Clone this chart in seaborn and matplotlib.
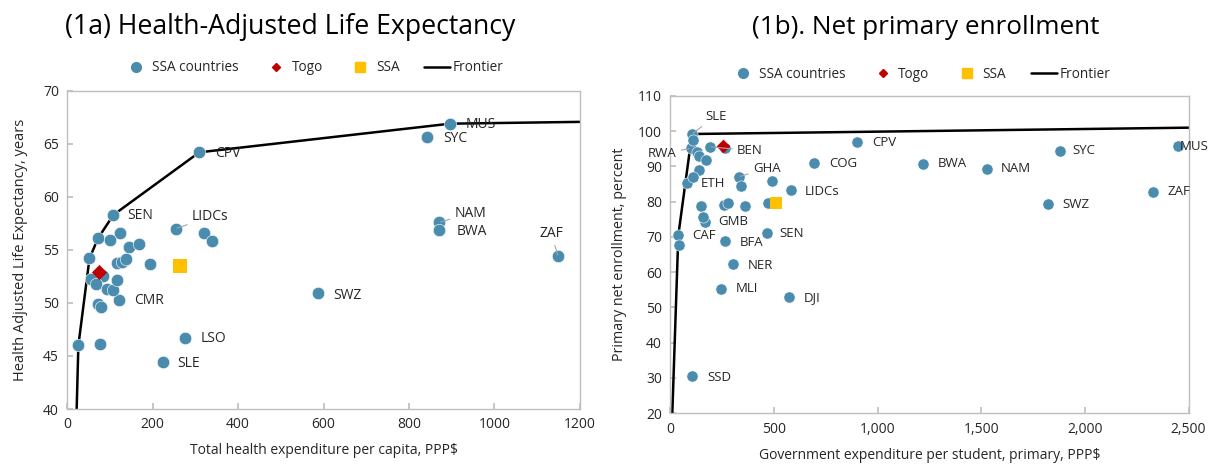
import matplotlib
matplotlib.use('Agg')
import matplotlib.pyplot as plt
import matplotlib.ticker as mticker
from matplotlib.lines import Line2D
import pandas as pd
import seaborn as sns

# ---- (1a) health: SSA countries (blank code = unlabelled point)
health_codes = ['CPV', 'SEN', 'LIDCs', 'CMR', 'LSO', 'SLE', 'SWZ', 'MUS', 'SYC', 'NAM', 'BWA', 'ZAF',
                '', '', '', '', '', '', '', '', '', '', '', '', '', '', '', '', '', '', '', '', '', '', '']
health_spend = [309, 108, 254, 122, 276, 225, 587, 896, 843, 871, 871, 1149,
                321, 339, 124, 72, 100, 145, 168, 52, 116, 127, 137, 194, 261, 84, 56, 67, 92, 108,
                116, 72, 80, 26, 77]
health_hale = [64.2, 58.3, 57.0, 50.3, 46.7, 44.4, 50.9, 66.9, 65.6, 57.6, 56.9, 54.4,
               56.6, 55.8, 56.6, 56.1, 55.9, 55.3, 55.6, 54.2, 53.8, 53.9, 54.1, 53.7, 53.5, 52.5, 52.3,
               51.8, 51.3, 51.2, 52.2, 49.9, 49.6, 46.0, 46.1]
togo_health = [75, 52.9]
ssa_health = [264, 53.45]
frontier_health_x = [22, 26, 52, 72, 108, 309, 896, 1200]
frontier_health_y = [40.0, 46.0, 54.2, 56.1, 58.3, 64.2, 66.9, 67.07]

# ---- (1b) education
edu_codes = ['SLE', 'RWA', 'BEN', 'GHA', 'ETH', 'COG', 'CPV', 'LIDCs', 'GMB', 'CAF', 'BFA', 'SEN',
             'NER', 'MLI', 'DJI', 'SSD', 'BWA', 'NAM', 'SYC', 'SWZ', 'ZAF', 'MUS',
             '', '', '', '', '', '', '', '', '', '', '', '', '', '', '', '']
edu_spend = [105, 98, 191, 331, 79, 694, 900, 583, 166, 39, 265, 466,
             304, 246, 571, 105, 1220, 1528, 1879, 1821, 2329, 2449,
             111, 127, 140, 172, 137, 108, 264, 339, 489, 146, 259, 280, 359, 471, 156, 43]
edu_enrol = [99.2, 95.1, 95.6, 87.1, 85.4, 91.0, 96.9, 83.2, 74.3, 70.5, 68.8, 71.0,
             62.2, 55.3, 53.0, 30.5, 90.7, 89.4, 94.5, 79.4, 82.8, 95.9,
             97.5, 94.1, 92.9, 91.8, 89.0, 87.1, 95.1, 84.4, 85.8, 78.8, 79.2, 79.7, 78.8, 79.7,
             75.6, 67.8]
togo_edu = [254, 95.8]
ssa_edu = [508, 79.5]
frontier_edu_x = [10, 39, 105, 2500]
frontier_edu_y = [20.0, 70.5, 99.2, 101.0]

# label offsets in pixels (dx, dy), alignment, leader line
lab_1a = {'CPV': (16, -1, 'left', False), 'SEN': (14, -1, 'left', False),
          'LIDCs': (16, 12, 'left', True), 'CMR': (15, -1, 'left', False),
          'LSO': (15, -1, 'left', False), 'SLE': (14, -1, 'left', False),
          'SWZ': (15, -2, 'left', False), 'MUS': (16, -1, 'left', False),
          'SYC': (16, -1, 'left', False), 'NAM': (15, 9, 'left', True),
          'BWA': (17, -2, 'left', False), 'ZAF': (-7, 23, 'center', True)}
lab_1b = {'SLE': (13, 18, 'left', True), 'RWA': (-14, -5, 'right', True),
          'BEN': (27, -4, 'left', True), 'GHA': (14, 8, 'left', True),
          'ETH': (14, -1, 'left', False), 'COG': (15, -1, 'left', False),
          'CPV': (15, 0, 'left', False), 'LIDCs': (14, -1, 'left', False),
          'GMB': (14, 0, 'left', False), 'CAF': (14, 0, 'left', False),
          'BFA': (15, -1, 'left', False), 'SEN': (13, 0, 'left', False),
          'NER': (14, -1, 'left', False), 'MLI': (15, 0, 'left', False),
          'DJI': (15, -1, 'left', False), 'SSD': (15, -1, 'left', False),
          'BWA': (15, 0, 'left', False), 'NAM': (14, 0, 'left', False),
          'SYC': (13, 0, 'left', False), 'SWZ': (15, -1, 'left', False),
          'ZAF': (14, 0, 'left', False), 'MUS': (2, -1, 'left', False)}

BLUE = '#4A8CAE'
RED = '#C00000'
GOLD = '#FFC000'
GREY = '#BFBFBF'
TXT = '#262626'

sns.set_theme(style='white')
plt.rcParams['font.family'] = ['Open Sans', 'DejaVu Sans']

fig = plt.figure(figsize=(12.12, 4.68), dpi=100)
ax1 = fig.add_axes([0.0555, 0.126, 0.423, 0.680])
ax2 = fig.add_axes([0.553, 0.117, 0.4277, 0.678])


def draw_panel(ax, codes, xs, ys, togo, ssa, fx, fy, labels, dot_size, fs):
    df = pd.DataFrame({'code': codes, 'x': xs, 'y': ys})
    sns.lineplot(x=fx, y=fy, ax=ax, color='black', lw=1.8, sort=False, estimator=None, zorder=2)
    sns.scatterplot(data=df, x='x', y='y', ax=ax, color=BLUE, s=dot_size,
                    edgecolor='white', linewidth=0.4, zorder=3)
    sns.scatterplot(x=[togo[0]], y=[togo[1]], ax=ax, color=RED, marker='D', s=dot_size * 0.75,
                    edgecolor=RED, linewidth=0, zorder=4)
    sns.scatterplot(x=[ssa[0]], y=[ssa[1]], ax=ax, color=GOLD, marker='s', s=dot_size * 1.1,
                    edgecolor=GOLD, linewidth=0, zorder=4)
    for _, r in df[df['code'] != ''].iterrows():
        dx, dy, ha, leader = labels[r['code']]
        props = None
        if leader:
            props = dict(arrowstyle='-', color='#A6A6A6', lw=0.8, shrinkA=1, shrinkB=1)
        ax.annotate(r['code'], (r['x'], r['y']), xytext=(dx, dy), textcoords='offset pixels',
                    ha=ha, va='center', fontsize=fs, color=TXT, arrowprops=props, zorder=5)
    for s in ax.spines.values():
        s.set_color(GREY)
        s.set_linewidth(1)
    ax.tick_params(axis='both', direction='in', length=4, color=GREY, labelsize=10,
                   labelcolor=TXT, pad=6, left=True, bottom=True)
    ax.set_xlabel('')
    ax.set_ylabel('')
    handles = [Line2D([], [], marker='o', ls='', color=BLUE, markersize=7),
               Line2D([], [], marker='D', ls='', color=RED, markersize=4),
               Line2D([], [], marker='s', ls='', color=GOLD, markersize=7),
               Line2D([], [], color='black', lw=1.8)]
    return handles


legend_kw = dict(ncol=4, loc='center', frameon=False, fontsize=9.8, handlelength=1.9,
                 handletextpad=0.2, columnspacing=1.8)

h = draw_panel(ax1, health_codes, health_spend, health_hale, togo_health, ssa_health,
               frontier_health_x, frontier_health_y, lab_1a, 80, 10)
ax1.set_xlim(0, 1200)
ax1.set_ylim(40, 70)
ax1.set_xticks(range(0, 1201, 200))
ax1.set_yticks(range(40, 71, 5))
ax1.set_xlabel('Total health expenditure per capita, PPP$', fontsize=10, color=TXT, labelpad=8)
ax1.set_ylabel('Health Adjusted Life Expectancy, years', fontsize=10.5, color=TXT, labelpad=11)
ax1.legend(h, ['SSA countries', 'Togo', 'SSA', 'Frontier'], bbox_to_anchor=(0.48, 1.072), **legend_kw)

h = draw_panel(ax2, edu_codes, edu_spend, edu_enrol, togo_edu, ssa_edu,
               frontier_edu_x, frontier_edu_y, lab_1b, 65, 9.5)
ax2.set_xlim(0, 2500)
ax2.set_ylim(20, 110)
ax2.set_xticks(range(0, 2501, 500))
ax2.set_yticks(range(20, 111, 10))
ax2.xaxis.set_major_formatter(mticker.StrMethodFormatter('{x:,.0f}'))
ax2.set_xlabel('Government expenditure per student, primary, PPP$', fontsize=10, color=TXT, labelpad=8)
ax2.set_ylabel('Primary net enrollment, percent', fontsize=10.3, color=TXT, labelpad=8)
ax2.legend(h, ['SSA countries', 'Togo', 'SSA', 'Frontier'], bbox_to_anchor=(0.482, 1.069), **legend_kw)

fig.text(290 / 1212, 1 - 27 / 468, '(1a) Health-Adjusted Life Expectancy', ha='center', va='center',
         fontsize=19.2, color='black')
fig.text(926 / 1212, 1 - 28 / 468, '(1b). Net primary enrollment', ha='center', va='center',
         fontsize=18.8, color='black')

fig.savefig('out.png', dpi=100)
